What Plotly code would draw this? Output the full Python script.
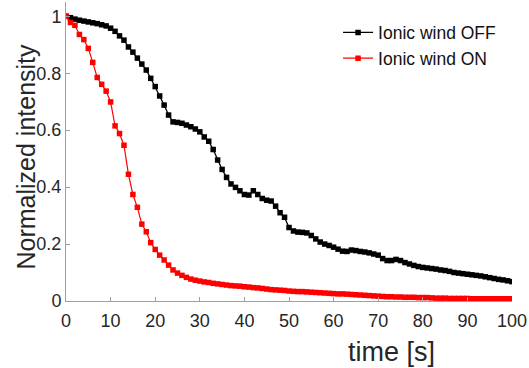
import plotly.graph_objects as go

time_s = list(range(0, 101))

ionic_off = [
    1.000, 0.995, 0.990, 0.986, 0.983, 0.980, 0.977, 0.974, 0.970, 0.966,
    0.958, 0.947, 0.931, 0.916, 0.892, 0.874, 0.853, 0.832, 0.811, 0.782,
    0.753, 0.720, 0.688, 0.653, 0.629, 0.627, 0.624, 0.618, 0.612, 0.604,
    0.594, 0.576, 0.561, 0.532, 0.495, 0.462, 0.434, 0.411, 0.399, 0.387,
    0.374, 0.372, 0.387, 0.374, 0.360, 0.354, 0.351, 0.333, 0.310, 0.294,
    0.258, 0.246, 0.242, 0.241, 0.239, 0.230, 0.218, 0.207, 0.200, 0.195,
    0.189, 0.182, 0.175, 0.174, 0.179, 0.177, 0.174, 0.172, 0.169, 0.165,
    0.161, 0.149, 0.142, 0.142, 0.146, 0.142, 0.135, 0.130, 0.125, 0.121,
    0.118, 0.116, 0.114, 0.112, 0.109, 0.107, 0.104, 0.100, 0.098, 0.096,
    0.094, 0.092, 0.090, 0.088, 0.085, 0.082, 0.079, 0.076, 0.074, 0.071,
    0.068,
]

ionic_on = [
    1.000, 0.978, 0.968, 0.936, 0.918, 0.887, 0.838, 0.785, 0.761, 0.737,
    0.699, 0.615, 0.588, 0.547, 0.445, 0.374, 0.329, 0.270, 0.243, 0.205,
    0.181, 0.161, 0.144, 0.126, 0.109, 0.098, 0.090, 0.083, 0.077, 0.073,
    0.070, 0.067, 0.065, 0.062, 0.060, 0.058, 0.056, 0.054, 0.053, 0.052,
    0.050, 0.049, 0.047, 0.046, 0.044, 0.042, 0.040, 0.039, 0.038, 0.037,
    0.035, 0.034, 0.033, 0.033, 0.032, 0.031, 0.030, 0.029, 0.028, 0.027,
    0.026, 0.025, 0.025, 0.024, 0.023, 0.022, 0.021, 0.020, 0.019, 0.018,
    0.017, 0.016, 0.015, 0.015, 0.014, 0.014, 0.013, 0.013, 0.013, 0.012,
    0.012, 0.012, 0.011, 0.010, 0.010, 0.010, 0.009, 0.009, 0.009, 0.009,
    0.009, 0.008, 0.008, 0.008, 0.008, 0.008, 0.008, 0.008, 0.008, 0.008,
    0.008,
]

x_ticks = [0, 10, 20, 30, 40, 50, 60, 70, 80, 90, 100]
y_ticks = [0, 0.2, 0.4, 0.6, 0.8, 1]
y_ticktext = ["0", "0.2", "0.4", "0.6", "0.8", "1"]

TXT = "#262626"
AX = "#a0a0a0"
FONT = "Liberation Sans, Arial, sans-serif"

fig = go.Figure()
fig.add_trace(go.Scatter(
    x=time_s, y=ionic_off, name="Ionic wind OFF", mode="lines+markers",
    line=dict(color="black", width=1.3),
    marker=dict(symbol="square", size=5.5, color="black"),
))
fig.add_trace(go.Scatter(
    x=time_s, y=ionic_on, name="Ionic wind ON", mode="lines+markers",
    line=dict(color="#ff0000", width=1.2),
    marker=dict(symbol="square", size=5.5, color="#ff0000"),
))

fig.update_layout(
    width=529, height=368,
    margin=dict(l=66, r=11, t=2, b=67),
    paper_bgcolor="white", plot_bgcolor="white",
    font=dict(family=FONT, color=TXT, size=18),
    showlegend=True,
    legend=dict(
        x=0.61, y=0.958, xanchor="left", yanchor="top",
        bgcolor="rgba(0,0,0,0)", font=dict(size=17.5, color="#111111"),
        itemwidth=30, tracegroupgap=0,
    ),
    xaxis=dict(
        range=[0, 100], tickvals=x_ticks, ticks="inside", ticklen=4,
        tickcolor=AX, showline=True, linecolor=AX, linewidth=1,
        showgrid=False, zeroline=False, tickfont=dict(size=18, color=TXT),
        mirror=False, ticklabeloverflow="allow", ticklabelstandoff=3,
    ),
    yaxis=dict(
        range=[0, 1.05], tickvals=y_ticks, ticktext=y_ticktext,
        ticks="inside", ticklen=4,
        tickcolor=AX, showline=True, linecolor=AX, linewidth=1,
        showgrid=False, zeroline=False, tickfont=dict(size=18, color=TXT),
        mirror=False,
    ),
)
fig.add_annotation(text="time [s]", xref="paper", yref="paper",
                   x=(396 - 66) / 452, y=-(352 - 301) / 299,
                   xanchor="center", yanchor="middle", showarrow=False,
                   font=dict(size=27, color=TXT))
fig.add_annotation(text="Normalized intensity", xref="paper", yref="paper",
                   x=-(66 - 25) / 452, y=(301 - 157) / 299,
                   xanchor="center", yanchor="middle", textangle=-90,
                   showarrow=False, font=dict(size=25, color=TXT))

fig.write_html("out.html")
